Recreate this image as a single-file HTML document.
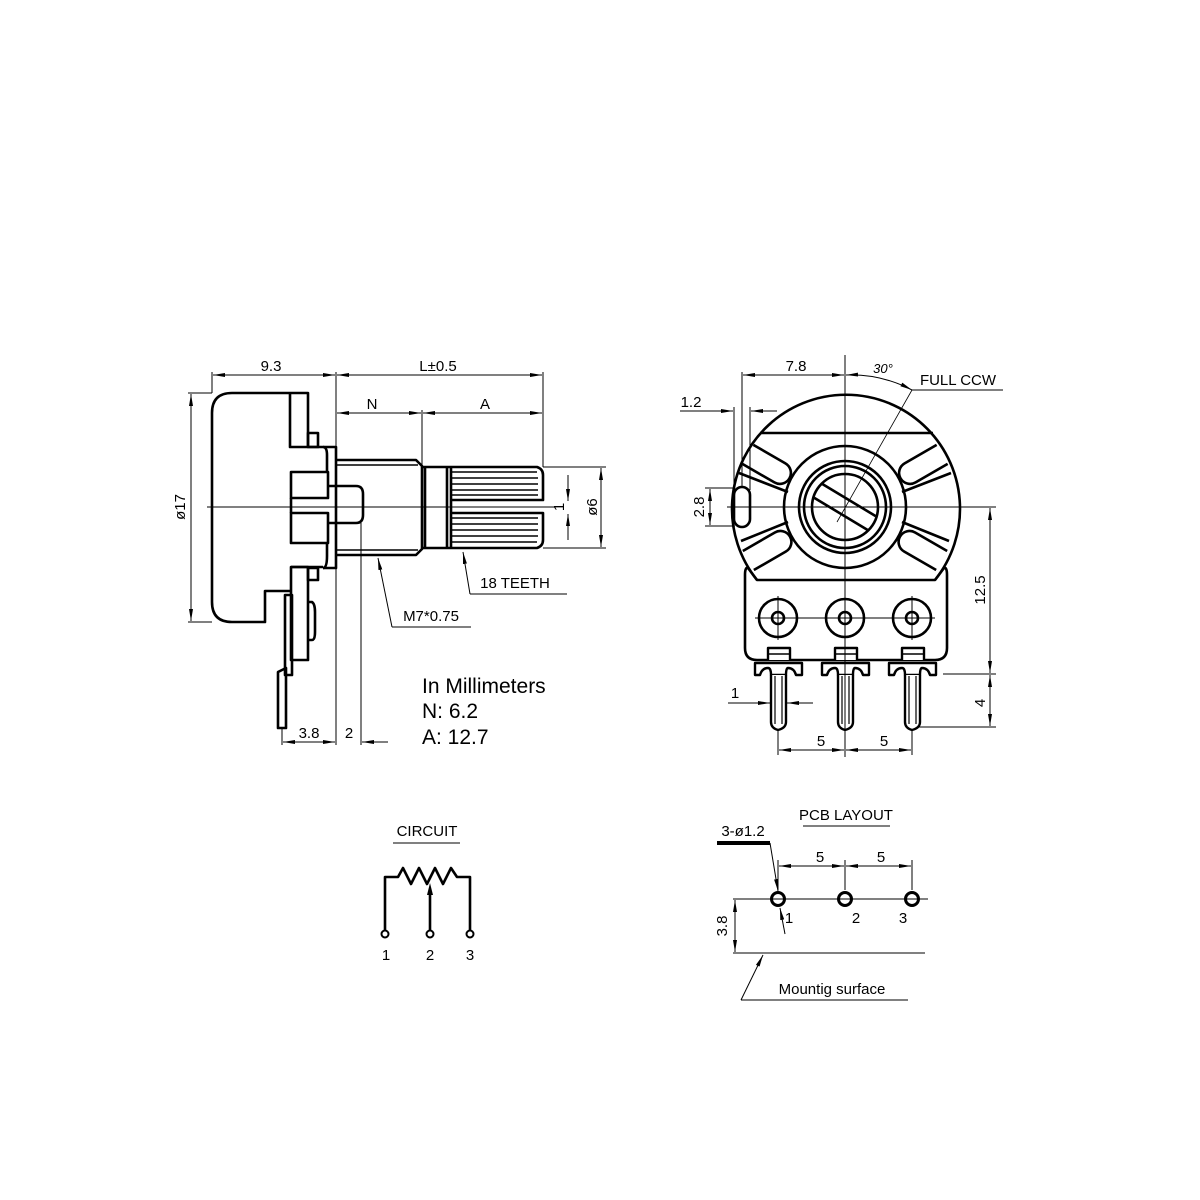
<!DOCTYPE html>
<html><head><meta charset="utf-8"><style>
html,body{margin:0;padding:0;background:#fff;}
svg{display:block;}
text{font-family:"Liberation Sans",sans-serif;fill:#000;}
.t{font-size:15px;}
</style></head><body>
<svg width="1200" height="1200" viewBox="0 0 1200 1200" xmlns="http://www.w3.org/2000/svg">
<defs>
<marker id="a" viewBox="0 0 12 4" refX="12" refY="2" markerWidth="12" markerHeight="4" markerUnits="userSpaceOnUse" orient="auto-start-reverse">
<path d="M0,0 L12,2 L0,4 z" fill="#000"/></marker>
</defs>
<rect width="1200" height="1200" fill="#fff"/>

<!-- ===== LEFT SIDE VIEW ===== -->
<g fill="none" stroke="#000" stroke-width="2.6" stroke-linejoin="round">
<!-- body -->
<path d="M212,602 L212,413 Q212,393 232,393 L308,393 L308,447"/>
<path d="M290,393 L290,447 L323,447 Q327,447 327,455 L327,462"/>
<rect x="308" y="433" width="10" height="14"/>
<path d="M212,602 Q212,622 232,622 L265,622 L265,591 L291,591"/>
<!-- flange -->
<path d="M323,447 L336,447 L336,568 L323,568"/>
<path d="M327,462 L327,472 M327,543 L327,556 Q327,568 323,568"/>
<!-- cross -->
<rect x="291" y="472" width="37" height="26"/>
<rect x="291" y="513" width="37" height="30"/>
<path d="M328,486 L356,486 Q363,486 363,494 L363,515 Q363,523 356,523 L328,523"/>
<path d="M291,498 L291,513"/>
<!-- lower block -->
<path d="M291,567 L323,567"/>
<rect x="291" y="567" width="17" height="93"/>
<rect x="308" y="568" width="10" height="12"/>
<path d="M308,602 L312,602 Q315,604 315,612 L315,632 Q315,640 312,640 L308,640"/>
<!-- terminal -->
<path d="M285,595 L292,595 L292,675 L285,675 Z"/>
<path d="M278,672 L286,668 L286,728 L278,728 Z"/>
<!-- bushing -->
<path d="M336,460 L416,460 L422,466 L422,549 L416,555 L336,555"/>
<path d="M336,465 L418,465 M336,550 L418,550" stroke-width="1.5"/>
<!-- knob shaft -->
<path d="M422,467 L537,467 Q543,469 543,475 L543,500 L451,500 M451,513 L543,513 L543,540 Q543,546 537,548 L422,548"/>
<path d="M425,467 L425,548 M447,467 L447,548 M451,467 L451,548"/>
</g>
<g stroke="#000" stroke-width="1.6">
<path d="M451,472H537M451,478H538M451,484H538M451,490H538M451,495H538M451,518H538M451,524H538M451,530H538M451,536H538M451,542H537"/>
</g>
<!-- left dims -->
<g stroke="#000" stroke-width="1" fill="none">
<path d="M207,507 H556"/>
<path d="M212,372 V393 M336,372 V745 M543,372 V467 M422,410 V467 M361,523 V745 M282,728 V745"/>
<path d="M188,393 H212 M188,622 H212 M543,467 H606 M543,548 H606"/>
<line x1="213" y1="375" x2="335" y2="375" marker-start="url(#a)" marker-end="url(#a)"/>
<line x1="337" y1="375" x2="542" y2="375" marker-start="url(#a)" marker-end="url(#a)"/>
<line x1="337" y1="413" x2="421" y2="413" marker-start="url(#a)" marker-end="url(#a)"/>
<line x1="423" y1="413" x2="542" y2="413" marker-start="url(#a)" marker-end="url(#a)"/>
<line x1="191" y1="394" x2="191" y2="621" marker-start="url(#a)" marker-end="url(#a)"/>
<line x1="601" y1="468" x2="601" y2="547" marker-start="url(#a)" marker-end="url(#a)"/>
<line x1="568" y1="475" x2="568" y2="501" marker-end="url(#a)"/>
<line x1="568" y1="540" x2="568" y2="514" marker-end="url(#a)"/>
<line x1="283" y1="742" x2="335" y2="742" marker-start="url(#a)" marker-end="url(#a)"/>
<line x1="388" y1="742" x2="362" y2="742" marker-end="url(#a)"/>
<path d="M470,594 H567"/><line x1="470" y1="594" x2="463" y2="552" marker-end="url(#a)"/>
<path d="M392,627 H471"/><line x1="392" y1="627" x2="378" y2="558" marker-end="url(#a)"/>
</g>
<g class="t">
<text x="271" y="371" text-anchor="middle">9.3</text>
<text x="438" y="371" text-anchor="middle">L±0.5</text>
<text x="372" y="409" text-anchor="middle">N</text>
<text x="485" y="409" text-anchor="middle">A</text>
<text transform="translate(185,507) rotate(-90)" text-anchor="middle">ø17</text>
<text transform="translate(597,507) rotate(-90)" text-anchor="middle">ø6</text>
<text transform="translate(564,507) rotate(-90)" text-anchor="middle">1</text>
<text x="515" y="588" text-anchor="middle">18 TEETH</text>
<text x="431" y="621" text-anchor="middle">M7*0.75</text>
<text x="309" y="738" text-anchor="middle">3.8</text>
<text x="349" y="738" text-anchor="middle">2</text>
</g>
<g style="font-size:21px">
<text x="422" y="693">In Millimeters</text>
<text x="422" y="718">N: 6.2</text>
<text x="422" y="744">A: 12.7</text>
</g>

<!-- ===== RIGHT FRONT VIEW ===== -->
<g fill="none" stroke="#000" stroke-width="2.6" stroke-linejoin="round">
<path d="M757,580 A114,114 0 1 1 935,580 Z"/>
<path d="M760,433 H933"/>
<path d="M757,580 L748,568 Q745,567 745,575 L745,648 Q745,660 757,660 L935,660 Q947,660 947,648 L947,575 Q947,567 944,568 L935,580"/>
<circle cx="845" cy="507" r="61"/>
<circle cx="845" cy="507" r="46"/>
<circle cx="845" cy="507" r="41"/>
<circle cx="845" cy="507" r="33"/>
<g transform="rotate(31 845 507)"><path d="M814,499 H876 M814,515 H876"/></g>
<rect x="734" y="487" width="16" height="40" rx="8"/>
<!-- spokes -->
<path d="M739,473 L788,492 M741,541 L788,522 M951,473 L902,492 M949,541 L902,522"/>
<g transform="rotate(30 770 466)"><path d="M745,456 H782 A11,11 0 0 1 782,478 H745"/></g>
<g transform="rotate(-30 920 466)"><path d="M945,456 H908 A11,11 0 0 0 908,478 H945"/></g>
<g transform="rotate(-30 770 548)"><path d="M745,537 H782 A11,11 0 0 1 782,559 H745"/></g>
<g transform="rotate(30 920 548)"><path d="M945,537 H908 A11,11 0 0 0 908,559 H945"/></g>
<!-- holes -->
<circle cx="778" cy="618" r="19"/><circle cx="778" cy="618" r="6"/>
<circle cx="845" cy="618" r="19"/><circle cx="845" cy="618" r="6"/>
<circle cx="912" cy="618" r="19"/><circle cx="912" cy="618" r="6"/>
</g>
<g fill="#fff" stroke="#000" stroke-width="2.4" stroke-linejoin="round">
<g id="pin">
<path d="M768,660 L768,648 L790,648 L790,660"/>
<path d="M768,654 H790" stroke-width="1.5"/>
<path d="M755,663 H802 V675 H796 Q794,668 788,668 Q786,668 786,675 L771,675 Q771,668 768,668 Q762,668 760,675 H755 Z"/>
<path d="M771,675 V722 Q771,728 778,730 Q786,728 786,722 V675"/>
<path d="M775,676 V724 M782,676 V724" stroke-width="1.2"/>
</g>
<use href="#pin" x="67"/>
<use href="#pin" x="134"/>
</g>
<!-- right dims -->
<g stroke="#000" stroke-width="1" fill="none">
<path d="M845,355 V757 M727,507 H965 M755,618 H935 M778,596 V640 M912,596 V640"/>
<path d="M742,372 V488 M734,407 V490 M750,407 V490"/>
<path d="M705,488 H735 M705,526 H735 M963,507 H996 M943,674 H996 M917,727 H996 M778,730 V755 M912,730 V755"/>
<line x1="743" y1="375" x2="844" y2="375" marker-start="url(#a)" marker-end="url(#a)"/>
<path d="M846,375 A132,132 0 0 1 912,390" marker-start="url(#a)" marker-end="url(#a)"/>
<path d="M912,390 H1003"/>
<path d="M912,390 L837,522" stroke-width="0.8"/>
<path d="M680,411 H722 M762,411 H777"/>
<line x1="722" y1="411" x2="733" y2="411" marker-end="url(#a)"/>
<line x1="762" y1="411" x2="751" y2="411" marker-end="url(#a)"/>
<line x1="710" y1="489" x2="710" y2="525" marker-start="url(#a)" marker-end="url(#a)"/>
<line x1="990" y1="508" x2="990" y2="673" marker-start="url(#a)" marker-end="url(#a)"/>
<line x1="990" y1="675" x2="990" y2="726" marker-start="url(#a)" marker-end="url(#a)"/>
<path d="M728,703 H760 M798,703 H813"/>
<line x1="758" y1="703" x2="770" y2="703" marker-end="url(#a)"/>
<line x1="800" y1="703" x2="787" y2="703" marker-end="url(#a)"/>
<line x1="779" y1="750" x2="844" y2="750" marker-start="url(#a)" marker-end="url(#a)"/>
<line x1="846" y1="750" x2="911" y2="750" marker-start="url(#a)" marker-end="url(#a)"/>
</g>
<g class="t">
<text x="796" y="371" text-anchor="middle">7.8</text>
<text x="883" y="373" text-anchor="middle" style="font-size:13px;font-style:italic">30°</text>
<text x="958" y="385" text-anchor="middle">FULL CCW</text>
<text x="691" y="407" text-anchor="middle">1.2</text>
<text transform="translate(704,507) rotate(-90)" text-anchor="middle">2.8</text>
<text transform="translate(985,590) rotate(-90)" text-anchor="middle">12.5</text>
<text transform="translate(985,703) rotate(-90)" text-anchor="middle">4</text>
<text x="735" y="698" text-anchor="middle">1</text>
<text x="821" y="746" text-anchor="middle">5</text>
<text x="884" y="746" text-anchor="middle">5</text>
</g>

<!-- ===== CIRCUIT ===== -->
<g class="t"><text x="427" y="836" text-anchor="middle">CIRCUIT</text></g>
<path d="M393,843 H460" stroke="#000" stroke-width="1"/>
<g fill="none" stroke="#000" stroke-width="2.6" stroke-linejoin="round">
<path d="M385,930 V877 H398 L403,868 L411,884 L419,868 L427,884 L435,868 L443,884 L451,868 L457,877 H470 V930"/>
<path d="M430,930 V892"/>
<circle cx="385" cy="934" r="3.5" stroke-width="2"/>
<circle cx="430" cy="934" r="3.5" stroke-width="2"/>
<circle cx="470" cy="934" r="3.5" stroke-width="2"/>
</g>
<path d="M430,883 L427,895 L433,895 Z" fill="#000"/>
<g class="t">
<text x="386" y="960" text-anchor="middle">1</text>
<text x="430" y="960" text-anchor="middle">2</text>
<text x="470" y="960" text-anchor="middle">3</text>
</g>

<!-- ===== PCB LAYOUT ===== -->
<g class="t">
<text x="846" y="820" text-anchor="middle">PCB LAYOUT</text>
<text x="743" y="836" text-anchor="middle">3-ø1.2</text>
<text x="820" y="862" text-anchor="middle">5</text>
<text x="881" y="862" text-anchor="middle">5</text>
<text x="789" y="923" text-anchor="middle">1</text>
<text x="856" y="923" text-anchor="middle">2</text>
<text x="903" y="923" text-anchor="middle">3</text>
<text transform="translate(727,926) rotate(-90)" text-anchor="middle">3.8</text>
<text x="832" y="994" text-anchor="middle">Mountig surface</text>
</g>
<g stroke="#000" stroke-width="1" fill="none">
<path d="M803,826 H890"/>
<path d="M733,899 H928 M733,953 H925 M778,860 V890 M845,860 V890 M912,860 V890"/>
<line x1="779" y1="866" x2="844" y2="866" marker-start="url(#a)" marker-end="url(#a)"/>
<line x1="846" y1="866" x2="911" y2="866" marker-start="url(#a)" marker-end="url(#a)"/>
<line x1="735" y1="900" x2="735" y2="952" marker-start="url(#a)" marker-end="url(#a)"/>
<line x1="770" y1="843" x2="778" y2="891" marker-end="url(#a)"/>
<line x1="785" y1="934" x2="780" y2="908" marker-end="url(#a)"/>
<path d="M741,1000 H908"/>
<line x1="741" y1="1000" x2="763" y2="955" marker-end="url(#a)"/>
</g>
<path d="M717,843 H770" stroke="#000" stroke-width="4"/>
<g fill="none" stroke="#000" stroke-width="3">
<circle cx="778" cy="899" r="6.5"/>
<circle cx="845" cy="899" r="6.5"/>
<circle cx="912" cy="899" r="6.5"/>
</g>
</svg>
</body></html>
